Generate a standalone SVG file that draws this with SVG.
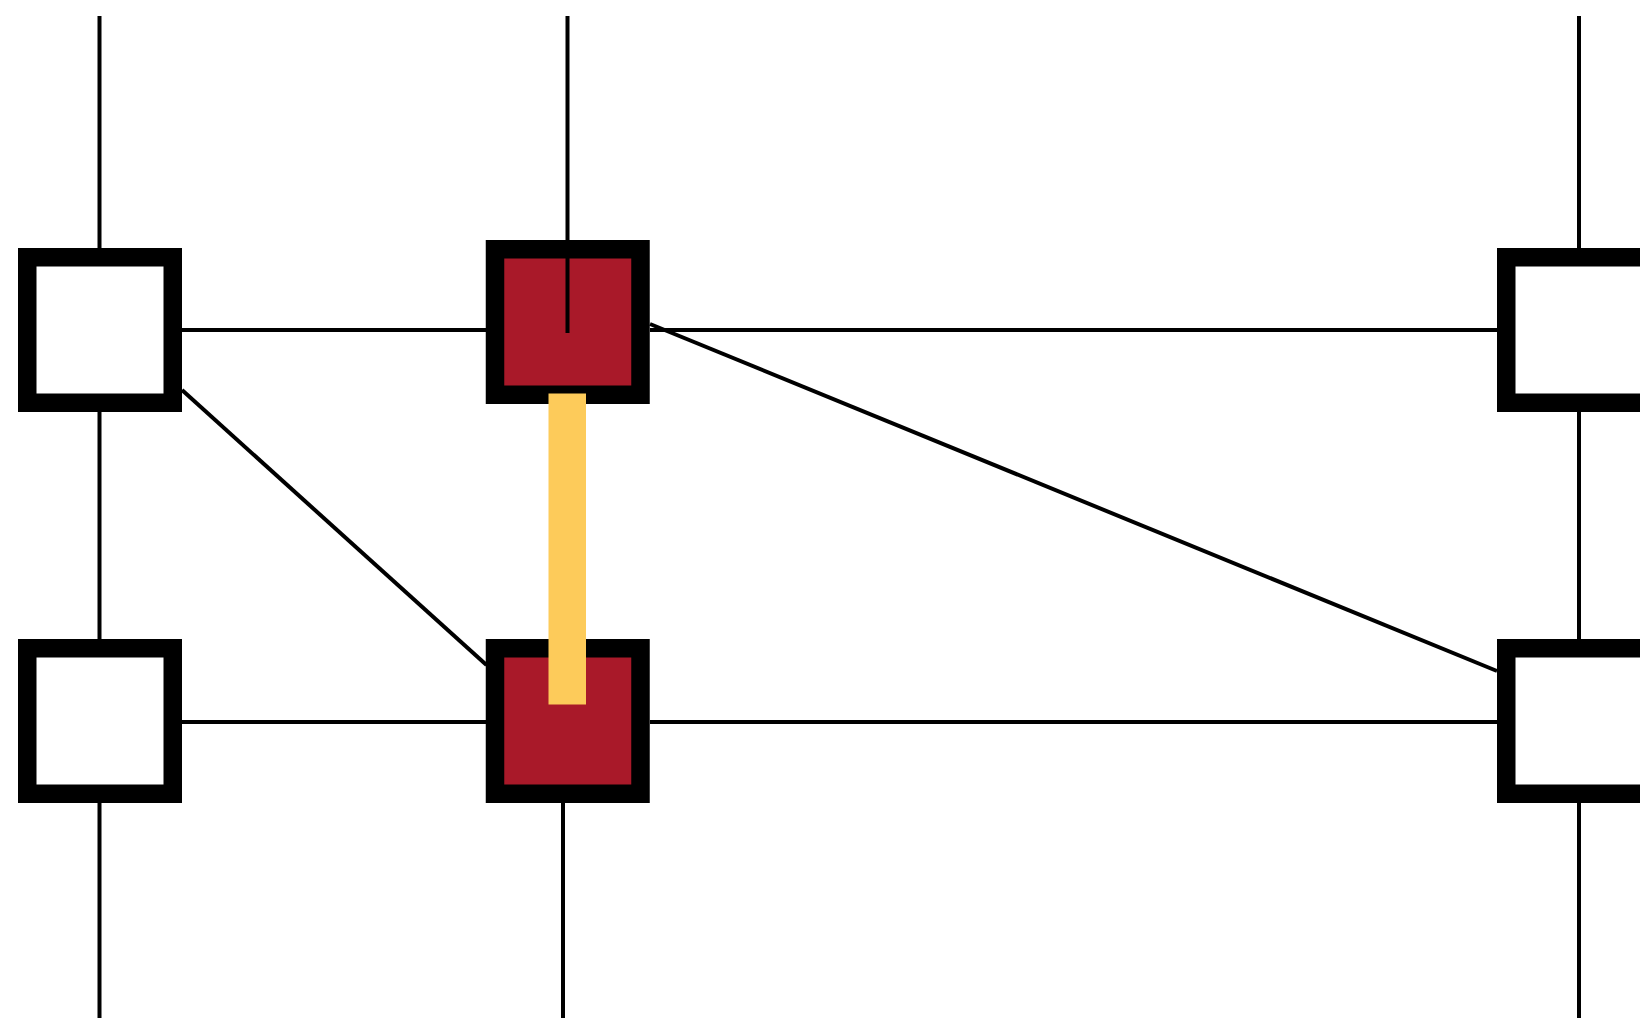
<svg xmlns="http://www.w3.org/2000/svg" width="1640" height="1018" viewBox="0 0 1640 1018">
<style>
.box{fill:#ffffff;stroke:#000000;stroke-width:18.5}
.red{fill:#A91929;stroke:#000000;stroke-width:18.5}
.ln{stroke:#000000;stroke-width:4;fill:none}
.hl{fill:#FDCB5A}
</style>
<rect width="1640" height="1018" fill="#ffffff"/>
<g id="node-tl"><rect class="box" x="27.25" y="257.25" width="145.5" height="145.5"/></g>
<g id="node-tm"><rect class="red" x="495" y="249.25" width="145.5" height="145.5"/></g>
<g id="node-tr"><rect class="box" x="1506.25" y="257.25" width="145.5" height="145.5"/></g>
<g id="node-bl"><rect class="box" x="27.25" y="648.25" width="145.5" height="145.5"/></g>
<g id="node-bm"><rect class="red" x="495" y="648.25" width="145.5" height="145.5"/></g>
<g id="node-br"><rect class="box" x="1506.25" y="648.25" width="145.5" height="145.5"/></g>
<g id="connectors">
<line class="ln" x1="99.5" y1="16" x2="99.5" y2="248"/>
<line class="ln" x1="99.5" y1="412" x2="99.5" y2="639"/>
<line class="ln" x1="99.5" y1="803" x2="99.5" y2="1018"/>
<line class="ln" x1="1579" y1="16" x2="1579" y2="248"/>
<line class="ln" x1="1579" y1="412" x2="1579" y2="639"/>
<line class="ln" x1="1579" y1="803" x2="1579" y2="1018"/>
<line class="ln" x1="567.5" y1="16" x2="567.5" y2="333"/>
<line class="ln" x1="563" y1="803" x2="563" y2="1018"/>
<line class="ln" x1="182" y1="330" x2="486" y2="330"/>
<line class="ln" x1="650" y1="330" x2="1497" y2="330"/>
<line class="ln" x1="182" y1="722" x2="486" y2="722"/>
<line class="ln" x1="650" y1="722" x2="1497" y2="722"/>
<line class="ln" x1="182" y1="390" x2="486.5" y2="665"/>
<line class="ln" x1="650" y1="324" x2="1497" y2="671"/>
<rect class="hl" x="548.5" y="393.5" width="37.5" height="311"/>
</g>
</svg>
